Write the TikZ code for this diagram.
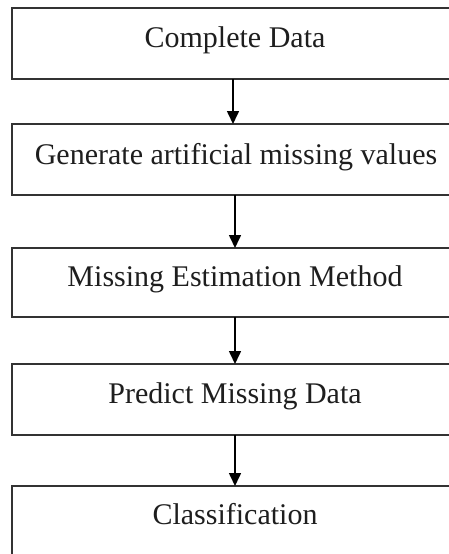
\documentclass[tikz,border=0pt]{standalone}
\usepackage{fontspec}
\setmainfont{Liberation Serif}
\usetikzlibrary{arrows.meta}
\definecolor{txt}{HTML}{1E1E1E}
\definecolor{edge}{HTML}{333333}
\begin{document}
\begin{tikzpicture}[x=1pt,y=-1pt,
  box/.style={draw=edge,line width=2pt,rectangle,inner sep=0pt,outer sep=0pt},
  lbl/.style={anchor=base,inner sep=0pt,text=txt,font=\fontsize{30}{34}\selectfont},
  arr/.style={draw=black,line width=1.6pt,-{Triangle[width=12pt,length=13pt]}}]
\useasboundingbox (0,0) rectangle (449,554);
\fill[white] (0,0) rectangle (449,554);
\clip (0,0) rectangle (449,554);
\node[box,minimum width=448pt,minimum height=71pt] (b1) at (236,43.5) {};
\node[box,minimum width=448pt,minimum height=71pt] (b2) at (236,159.5) {};
\node[box,minimum width=448pt,minimum height=69pt] (b3) at (236,282.5) {};
\node[box,minimum width=448pt,minimum height=71pt] (b4) at (236,399.5) {};
\node[box,minimum width=448pt,minimum height=74pt] (b5) at (236,523) {};
\node[lbl] (t1) at (235,47.5) {Complete Data};
\node[lbl] (t2) at (236,164) {Generate artificial missing values};
\node[lbl] (t3) at (235,286) {Missing Estimation Method};
\node[lbl] (t4) at (235,403) {Predict Missing Data};
\node[lbl] (t5) at (235,524) {Classification};
\draw[arr] ([xshift=-3pt]b1.south) -- ([xshift=-3pt]b2.north);
\draw[arr] ([xshift=-1pt]b2.south) -- ([xshift=-1pt]b3.north);
\draw[arr] ([xshift=-1pt]b3.south) -- ([xshift=-1pt]b4.north);
\draw[arr] ([xshift=-1pt]b4.south) -- ([xshift=-1pt]b5.north);
\end{tikzpicture}
\end{document}
